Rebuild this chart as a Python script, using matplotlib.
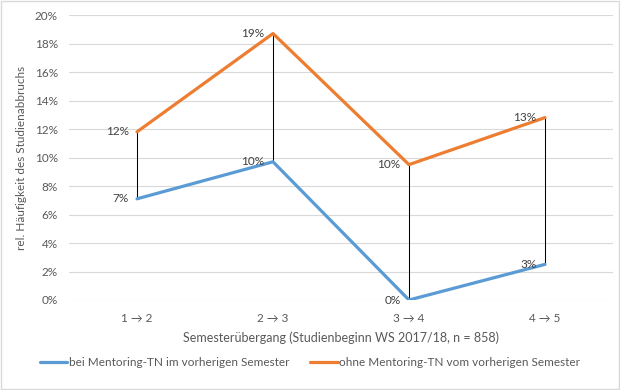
import matplotlib
matplotlib.use("Agg")
import matplotlib.pyplot as plt
from matplotlib.ticker import PercentFormatter
from matplotlib.patches import Rectangle

# Daten
categories = ["1 → 2", "2 → 3", "3 → 4", "4 → 5"]
mit_mentoring = [7.1, 9.7, 0.0, 2.5]
ohne_mentoring = [11.8, 18.7, 9.5, 12.8]
labels_mit = ["7%", "10%", "0%", "3%"]
labels_ohne = ["12%", "19%", "10%", "13%"]
name_mit = "bei Mentoring-TN im vorherigen Semester"
name_ohne = "ohne Mentoring-TN vom vorherigen Semester"

plt.rcParams["font.family"] = ["Lato", "DejaVu Sans"]
TXT = "#595959"
BLUE = "#5B9BD5"
ORANGE = "#ED7D31"

fig = plt.figure(figsize=(6.2, 3.9), dpi=100)
ax = fig.add_axes([69 / 620, 1 - 300 / 390, 544 / 620, 285 / 390])

x = list(range(len(categories)))

# Hoch-Tief-Linien
for xi, lo, hi in zip(x, mit_mentoring, ohne_mentoring):
    ax.plot([xi, xi], [lo, hi], color="black", lw=0.75, zorder=2)

ax.plot(x, mit_mentoring, color=BLUE, lw=2.3, solid_capstyle="round", label=name_mit, zorder=3)
ax.plot(x, ohne_mentoring, color=ORANGE, lw=2.3, solid_capstyle="round", label=name_ohne, zorder=3)

for xi, v, t in zip(x, mit_mentoring, labels_mit):
    ax.annotate(t, (xi, v), xytext=(-6, 0), textcoords="offset points",
                ha="right", va="center", fontsize=8.5, color="#404040")
for xi, v, t in zip(x, ohne_mentoring, labels_ohne):
    ax.annotate(t, (xi, v), xytext=(-6, 0), textcoords="offset points",
                ha="right", va="center", fontsize=8.5, color="#404040")

ax.set_xlim(-0.5, len(categories) - 0.5)
ax.set_ylim(0, 20)
ax.set_yticks(range(0, 21, 2))
ax.yaxis.set_major_formatter(PercentFormatter(decimals=0))
ax.set_xticks(x)
ax.set_xticklabels(categories)
ax.tick_params(length=0, labelsize=8.5, colors=TXT, pad=8)
ax.tick_params(axis="x", pad=9)
ax.grid(axis="y", color="#D9D9D9", lw=0.8)
ax.set_axisbelow(True)
for s in ax.spines.values():
    s.set_visible(False)

ax.set_xlabel("Semesterübergang (Studienbeginn WS 2017/18, n = 858)", fontsize=9,
              color=TXT, labelpad=6)
ax.set_ylabel("rel. Häufigkeit des Studienabbruchs", fontsize=8.5, color=TXT)
ax.yaxis.set_label_coords(-42 / 544, 0.5)

fig.legend(loc="center", bbox_to_anchor=(0.5, 1 - 363 / 390), ncol=2, frameon=False,
           fontsize=8.5, labelcolor=TXT, handlelength=2.3, handletextpad=0.1,
           columnspacing=1.8)

fig.patches.append(Rectangle((0.002, 0.002), 0.996, 0.995, transform=fig.transFigure,
                             fill=False, edgecolor="#D9D9D9", lw=1))

fig.savefig("out.png", dpi=100, facecolor="white")
